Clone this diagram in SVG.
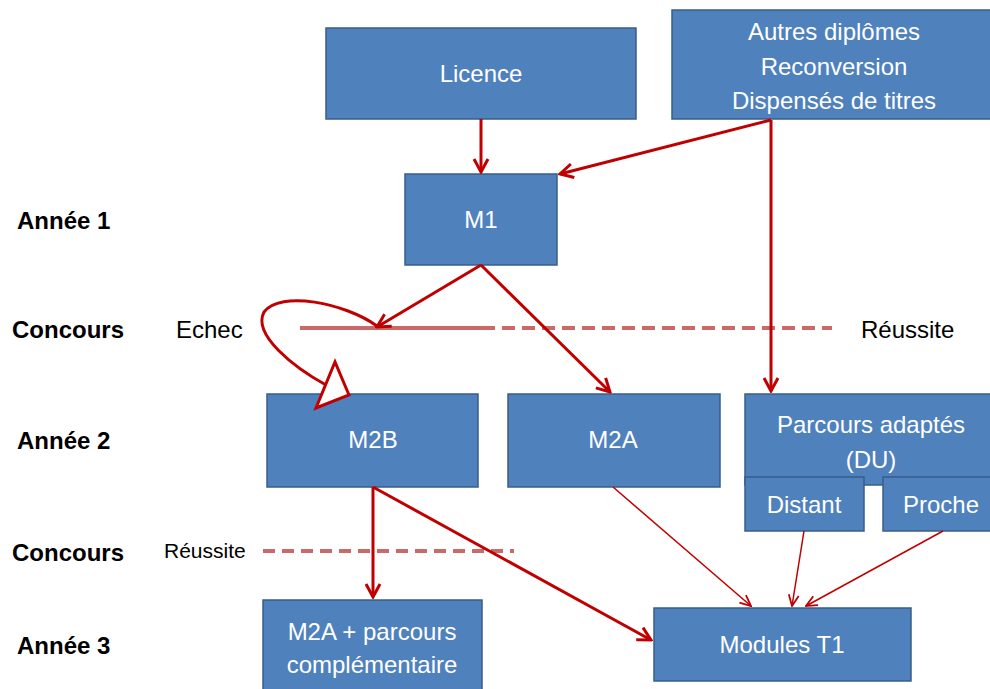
<svg xmlns="http://www.w3.org/2000/svg" width="990" height="689" viewBox="0 0 990 689">
<style>
.box{fill:#4f81bd;stroke:#385d8a;stroke-width:1.5}
.bt{font-family:"Liberation Sans",Arial,sans-serif;font-size:24px;fill:#ffffff;text-anchor:middle}
.lbl{font-family:"Liberation Sans",Arial,sans-serif;font-size:24px;font-weight:bold;fill:#000000}
.reg{font-family:"Liberation Sans",Arial,sans-serif;fill:#000000}
.thick{stroke:#c00000;stroke-width:3;fill:none}
.thin{stroke:#c00000;stroke-width:1.5;fill:none}
.sep{stroke:#c0504d;stroke-opacity:0.85;stroke-width:4;fill:none}
</style>
<defs>
<marker id="ah" markerUnits="userSpaceOnUse" markerWidth="18" markerHeight="18" viewBox="0 0 18 18" refX="16" refY="9" orient="auto">
<path d="M3,2 L16,9 L3,16" fill="none" stroke="#c00000" stroke-width="3"/>
</marker>
<marker id="ahs" markerUnits="userSpaceOnUse" markerWidth="14" markerHeight="14" viewBox="0 0 14 14" refX="13" refY="7" orient="auto">
<path d="M2,2 L13,7 L2,12" fill="none" stroke="#c00000" stroke-width="1.8"/>
</marker>
</defs>
<rect width="990" height="689" fill="#ffffff"/>

<g id="labels">
<text class="lbl" x="17" y="229" font-size="25">Année 1</text>
<text class="lbl" x="12" y="338">Concours</text>
<text class="lbl" x="17" y="449" font-size="25">Année 2</text>
<text class="lbl" x="12" y="561">Concours</text>
<text class="lbl" x="17" y="654" font-size="25">Année 3</text>
<text class="reg" x="176" y="338" font-size="24">Echec</text>
<text class="reg" x="861" y="338" font-size="24">Réussite</text>
<text class="reg" x="164" y="558" font-size="21">Réussite</text>
</g>

<g id="separators">
<line class="sep" x1="300" y1="328" x2="482" y2="328"/>
<line class="sep" x1="482" y1="328" x2="832" y2="328" stroke-dasharray="13 7"/>
<line class="sep" x1="263" y1="551" x2="514" y2="551" stroke-dasharray="12 7"/>
</g>

<g id="licence"><rect class="box" x="326" y="28" width="310" height="91"/><text class="bt" x="481" y="82">Licence</text></g>
<g id="autres"><rect class="box" x="672" y="10" width="320" height="109"/>
<text class="bt" x="834" y="40">Autres diplômes</text>
<text class="bt" x="834" y="75">Reconversion</text>
<text class="bt" x="834" y="109">Dispensés de titres</text></g>
<g id="m1"><rect class="box" x="405" y="174" width="152" height="91"/><text class="bt" x="481" y="228">M1</text></g>
<g id="m2b"><rect class="box" x="267" y="394" width="211" height="93"/><text class="bt" x="373" y="448">M2B</text></g>
<g id="m2a"><rect class="box" x="508" y="394" width="212" height="93"/><text class="bt" x="613" y="448">M2A</text></g>
<g id="parcours"><rect class="box" x="745" y="394" width="247" height="91"/>
<text class="bt" x="871" y="433">Parcours adaptés</text>
<text class="bt" x="871" y="468">(DU)</text></g>
<g id="distant"><rect class="box" x="745" y="477" width="119" height="54"/><text class="bt" x="804" y="513">Distant</text></g>
<g id="proche"><rect class="box" x="883" y="477" width="109" height="54"/><text class="bt" x="941" y="513">Proche</text></g>
<g id="m2a-plus"><rect class="box" x="263" y="600" width="219" height="92"/>
<text class="bt" x="372" y="640">M2A + parcours</text>
<text class="bt" x="372" y="673">complémentaire</text></g>
<g id="modules"><rect class="box" x="654" y="608" width="257" height="73"/><text class="bt" x="782" y="653">Modules T1</text></g>

<g id="connectors">
<line class="thick" x1="481" y1="119" x2="481" y2="172" marker-end="url(#ah)"/>
<line class="thick" x1="771" y1="120" x2="560" y2="174" marker-end="url(#ah)"/>
<line class="thick" x1="771" y1="120" x2="771" y2="391" marker-end="url(#ah)"/>
<line class="thick" x1="481" y1="265" x2="377" y2="327" marker-end="url(#ah)"/>
<line class="thick" x1="481" y1="265" x2="610" y2="392" marker-end="url(#ah)"/>
<path class="thick" d="M377,326 C345,303 280,290 264,312 C252,335 295,368 326,385"/>
<polygon points="349,395 335,362 316,408" fill="#ffffff" stroke="#c00000" stroke-width="3" stroke-linejoin="miter"/>
<line class="thick" x1="373" y1="487" x2="373" y2="597" marker-end="url(#ah)"/>
<line class="thick" x1="373" y1="487" x2="651" y2="640" marker-end="url(#ah)"/>
<line class="thin" x1="613" y1="487" x2="751" y2="606" marker-end="url(#ahs)"/>
<line class="thin" x1="804" y1="531" x2="792" y2="606" marker-end="url(#ahs)"/>
<line class="thin" x1="943" y1="531" x2="806" y2="606" marker-end="url(#ahs)"/>
</g>
</svg>
